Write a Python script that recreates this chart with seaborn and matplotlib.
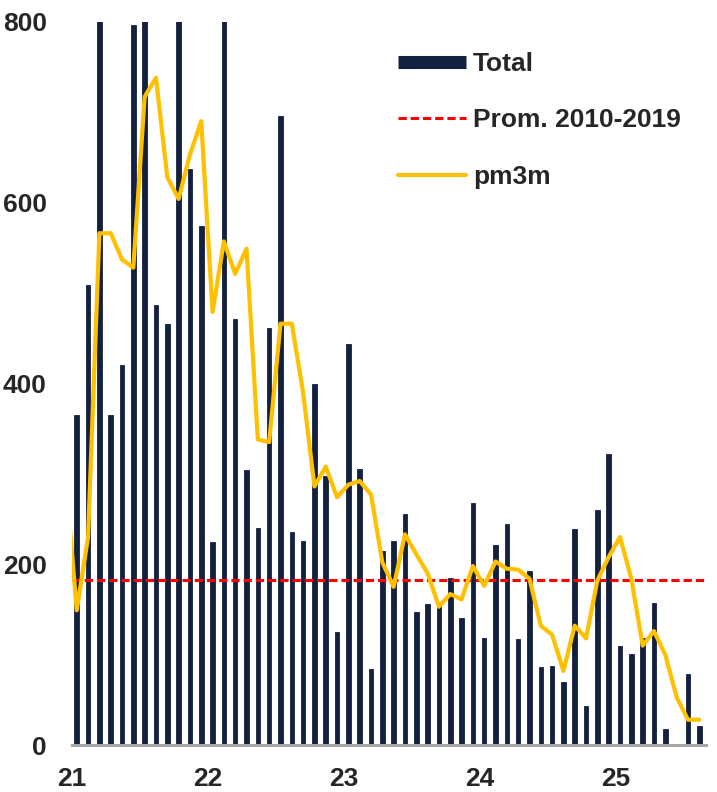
import matplotlib
matplotlib.use("Agg")
import matplotlib.pyplot as plt
from matplotlib.lines import Line2D
import seaborn as sns
import pandas as pd

# ---- data ----
months = [f"{y}-{m:02d}" for y in range(2021, 2026) for m in range(1, 13)][:56]
total = [365, 509, 824, 365, 420, 796, 935, 487, 466, 859, 637, 574,
         225, 872, 471, 304, 240, 461, 696, 236, 226, 399, 297, 125,
         443, 305, 84, 215, 226, 256, 147, 156, 158, 185, 140, 268,
         118, 221, 245, 117, 192, 86, 87, 70, 239, 43, 260, 322,
         110, 101, 118, 157, 18, 0, 79, 21]
pm3m_months = ["2020-12"] + months
pm3m = [300, 149, 230, 566, 566, 537, 528, 717, 738, 628, 604, 653, 690,
        479, 557, 521, 549, 338, 335, 466, 466, 390, 286, 308, 274,
        288, 292, 277, 202, 175, 233, 211, 190, 153, 167, 161, 198,
        176, 203, 195, 194, 184, 132, 122, 82, 132, 118, 182, 208,
        230, 184, 110, 126, 100, 53, 28, 28]
prom_2010_2019 = 183
year_labels = ["21", "22", "23", "24", "25"]
yticks = [0, 200, 400, 600, 800]

NAVY = "#13203F"
YELLOW = "#FFC000"
RED = "#FF0000"
GRAY = "#A6A6A6"

sns.set_style("white")
plt.rcParams['font.family'] = ['Liberation Sans', 'DejaVu Sans']
plt.rcParams['font.weight'] = 'bold'

df_bar = pd.DataFrame({"pos": list(range(len(total))), "total": total})
df_line = pd.DataFrame({"pos": list(range(-1, len(pm3m) - 1)), "pm3m": pm3m})

fig = plt.figure(figsize=(7.17, 7.92), dpi=100)
ax = fig.add_axes([0.1004, 0.0593, 0.8843, 0.9133])

sns.barplot(data=df_bar, x="pos", y="total", color=NAVY, width=0.40,
            saturation=1, ax=ax, order=list(range(len(total))),
            edgecolor=NAVY, linewidth=0.6)
ax.axhline(prom_2010_2019, color=RED, lw=2.2, dashes=(2.7, 1.3), zorder=3)
sns.lineplot(data=df_line, x="pos", y="pm3m", color=YELLOW, lw=3, ax=ax, zorder=4)

ax.set_xlim(-0.42, 55.6)
ax.set_ylim(0, 800)
ax.set_xlabel("")
ax.set_ylabel("")

ax.set_xticks([12 * i - 0.42 for i in range(len(year_labels))])
ax.set_xticklabels(year_labels)
ax.set_yticks(yticks)
ax.set_yticklabels([str(v) for v in yticks])

for s in ["top", "right", "left"]:
    ax.spines[s].set_visible(False)
ax.spines["bottom"].set_color(GRAY)
ax.spines["bottom"].set_linewidth(2.2)

ax.tick_params(axis="x", direction="out", length=5, width=2.2, color=GRAY,
               pad=11, labelsize=19)
ax.tick_params(axis="y", length=0, pad=18, labelsize=19)
for lab in ax.get_xticklabels() + ax.get_yticklabels():
    lab.set_fontweight("bold")

handles = [
    Line2D([0], [0], color=NAVY, lw=9.4, solid_capstyle="butt"),
    Line2D([0], [0], color=RED, lw=2.2, dashes=(2.7, 1.3)),
    Line2D([0], [0], color=YELLOW, lw=3),
]
ax.legend(handles, ["Total", "Prom. 2010-2019", "pm3m"],
          loc="upper left", bbox_to_anchor=(398 / 717, 1 - 52 / 792),
          bbox_transform=fig.transFigure, frameon=False, borderpad=0,
          borderaxespad=0, handlelength=2.57, handletextpad=0.27,
          labelspacing=1.23, prop={"weight": "bold", "size": 19})

fig.savefig("out.png", dpi=100)
